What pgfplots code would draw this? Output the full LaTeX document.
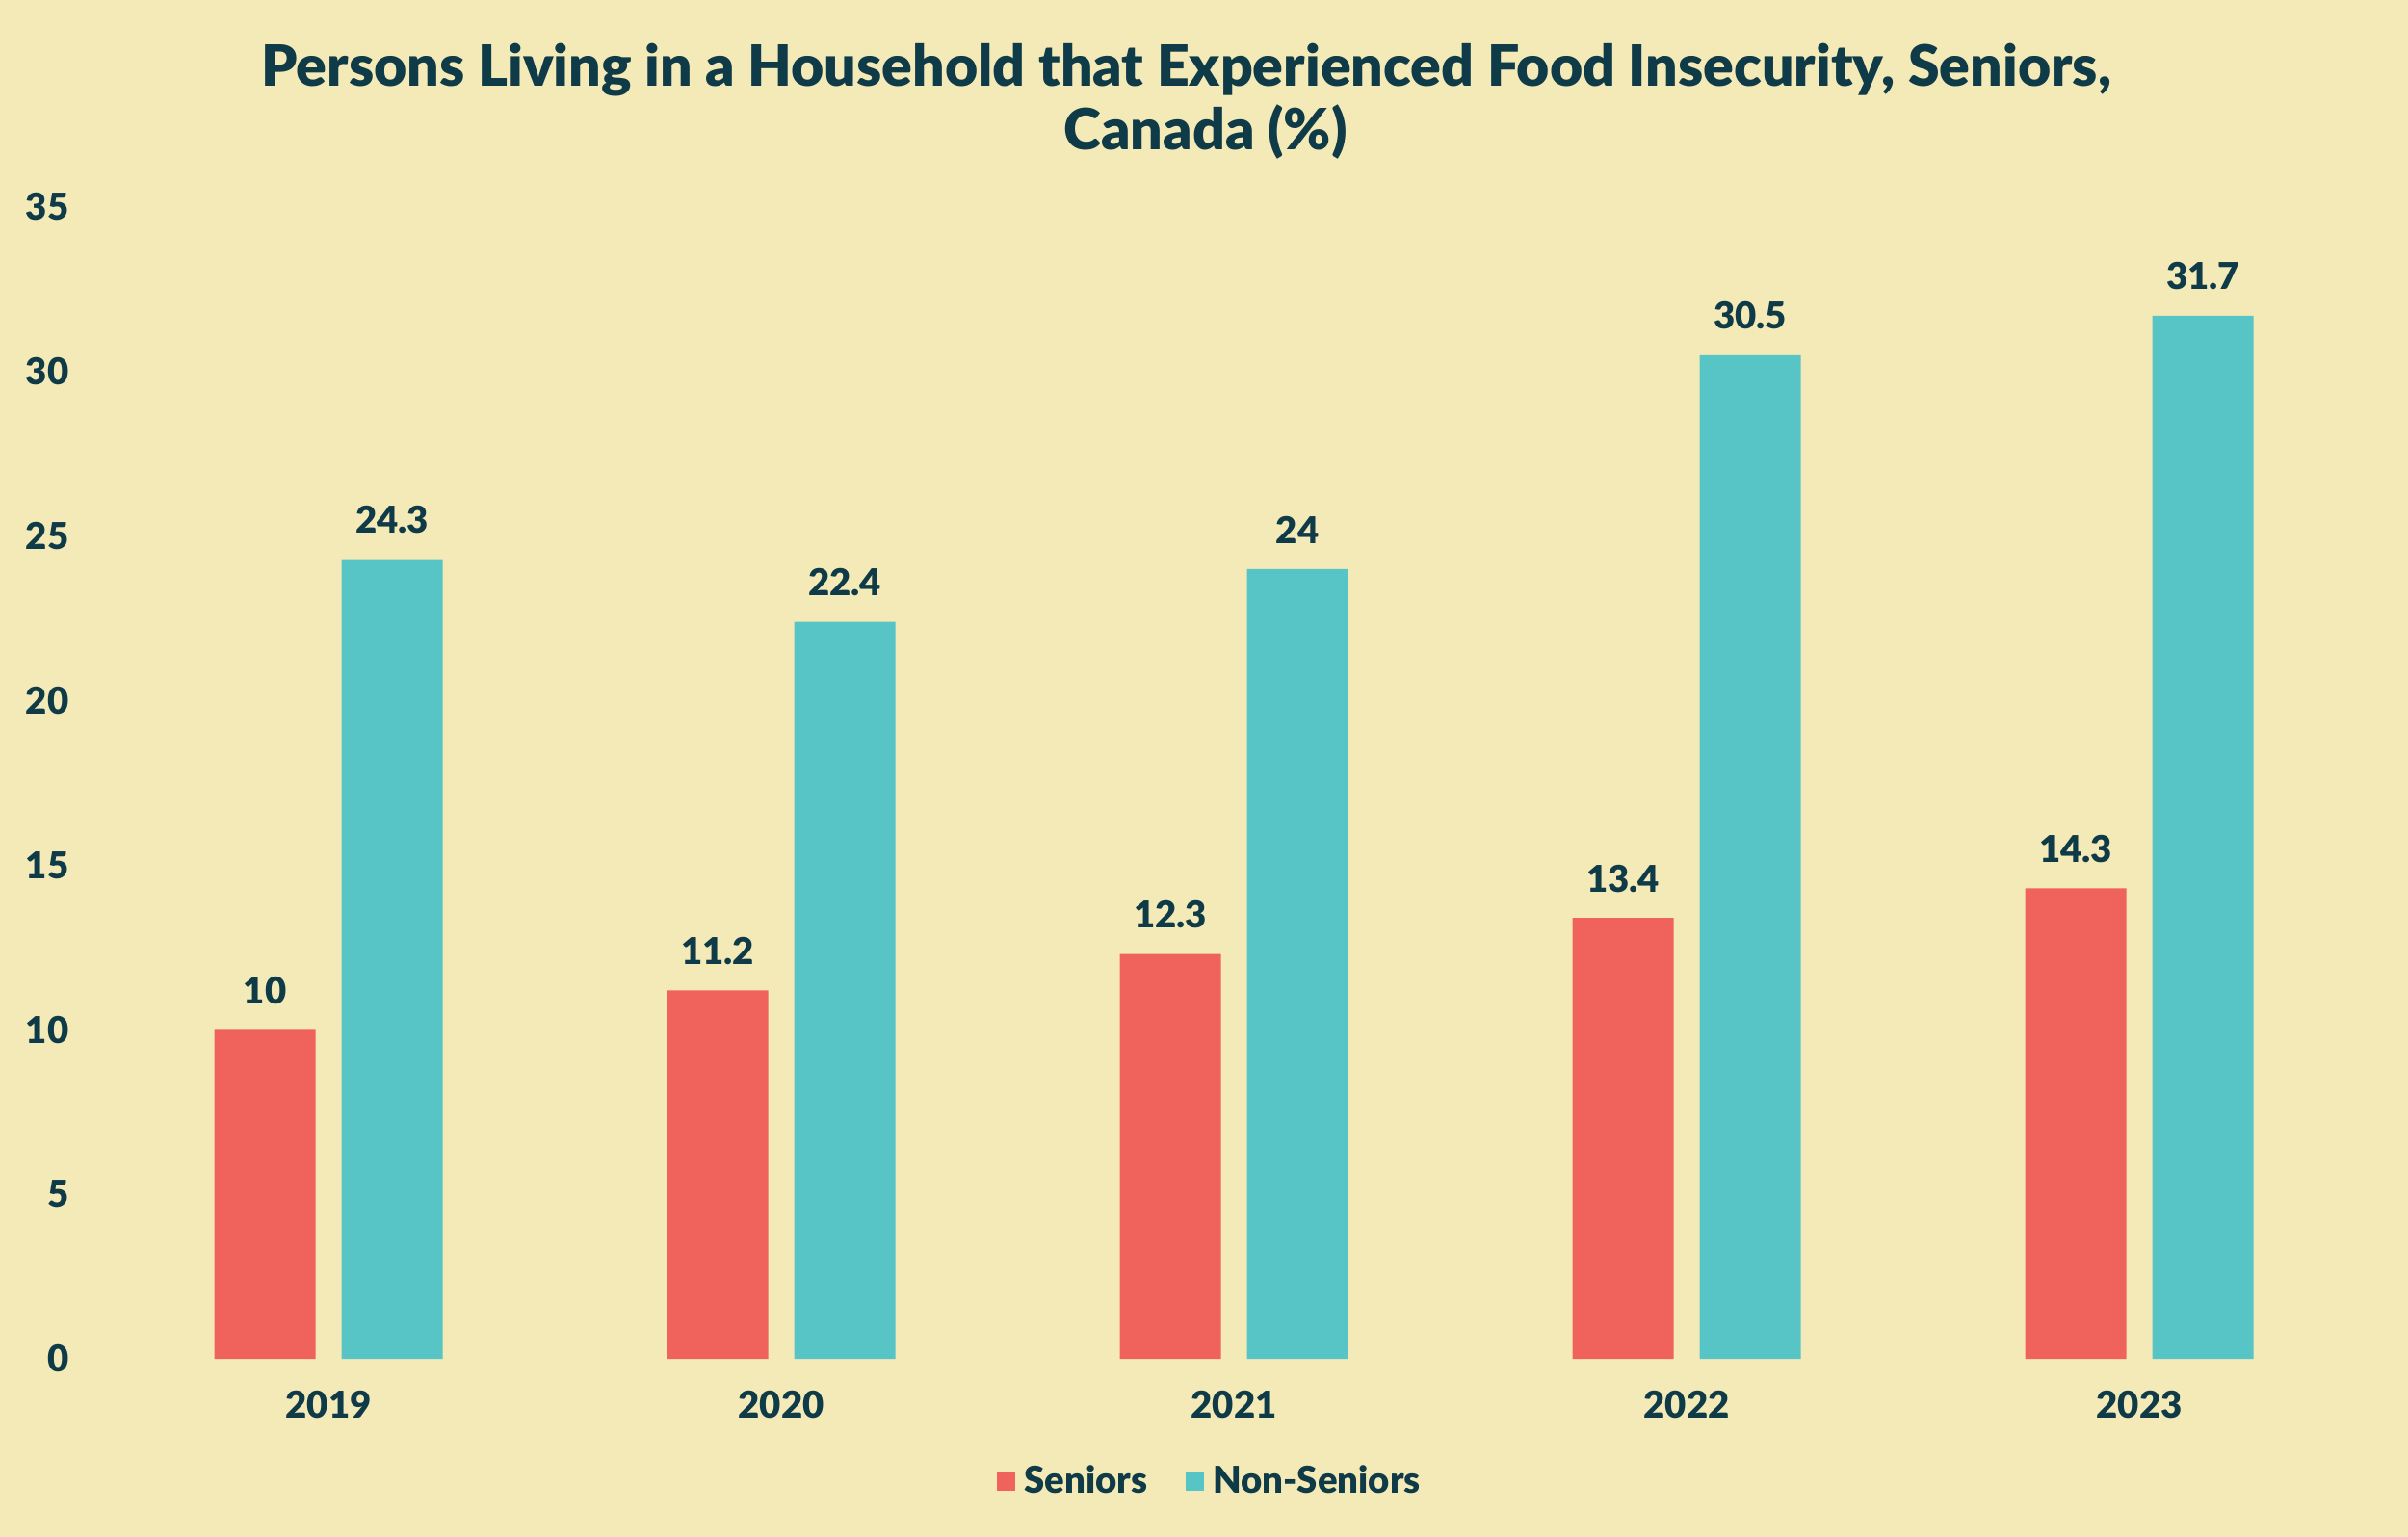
\documentclass[border=0pt]{standalone}
\usepackage{pgfplots}
\pgfplotsset{compat=1.18}
\usepackage{fontspec}
\setmainfont{Lato}[BoldFont={Lato Black}]
\definecolor{bg}{HTML}{F4EAB8}
\definecolor{sred}{HTML}{F0635D}
\definecolor{steal}{HTML}{57C4C5}
\definecolor{ink}{HTML}{0F3A47}
\begin{document}
\begin{tikzpicture}
\fill[bg] (0,0) rectangle (750bp,478.8bp);
\node[text=ink, align=center, font=\fontsize{17.7bp}{19.8bp}\selectfont\bfseries, inner sep=0pt] at (375.5bp,447.3bp)
  {Persons Living in a Household that Experienced Food Insecurity, Seniors,\hspace*{12bp}\\Canada (\%)};
\begin{axis}[
  at={(31.8bp,55.5bp)}, anchor=south west,
  scale only axis, width=705bp, height=358.8bp,
  xmin=-0.5, xmax=4.5, ymin=0, ymax=35,
  ybar=8.1bp, bar width=31.5bp,
  axis line style={draw=none},
  tick style={draw=none},
  xtick={0,1,2,3,4},
  xticklabels={2019,2020,2021,2022,2023},
  ytick={0,5,...,35},
  /pgf/number format/assume math mode=true,
  ticklabel style={text=ink, font=\fontsize{11.5bp}{13bp}\selectfont\bfseries, inner sep=0pt},
  yticklabel style={anchor=east, xshift=-10.2bp},
  xticklabel style={anchor=north, yshift=-5.6bp},
  nodes near coords,
  every node near coord/.append style={text=ink, font=\fontsize{11.5bp}{13bp}\selectfont\bfseries, inner sep=0pt, anchor=south, yshift=7.8bp},
  legend columns=-1,
  legend style={at={(0.489,-0.107)}, anchor=center, draw=none, fill=none,
    font=\fontsize{11.5bp}{13bp}\selectfont\bfseries, text=ink,
    nodes={inner sep=0pt},
    /tikz/every odd column/.append style={column sep=2.7bp},
    /tikz/every even column/.append style={column sep=12bp}},
  legend image code/.code={\fill[#1,draw=none] (0bp,-2.85bp) rectangle (5.7bp,2.85bp);},
]
\addplot[fill=sred, draw=none] coordinates {(0,10) (1,11.2) (2,12.3) (3,13.4) (4,14.3)};
\addplot[fill=steal, draw=none] coordinates {(0,24.3) (1,22.4) (2,24) (3,30.5) (4,31.7)};
\legend{Seniors, Non-Seniors}
\end{axis}
\pgfresetboundingbox
\useasboundingbox (0,0) rectangle (750bp,478.8bp);
\end{tikzpicture}
\end{document}
